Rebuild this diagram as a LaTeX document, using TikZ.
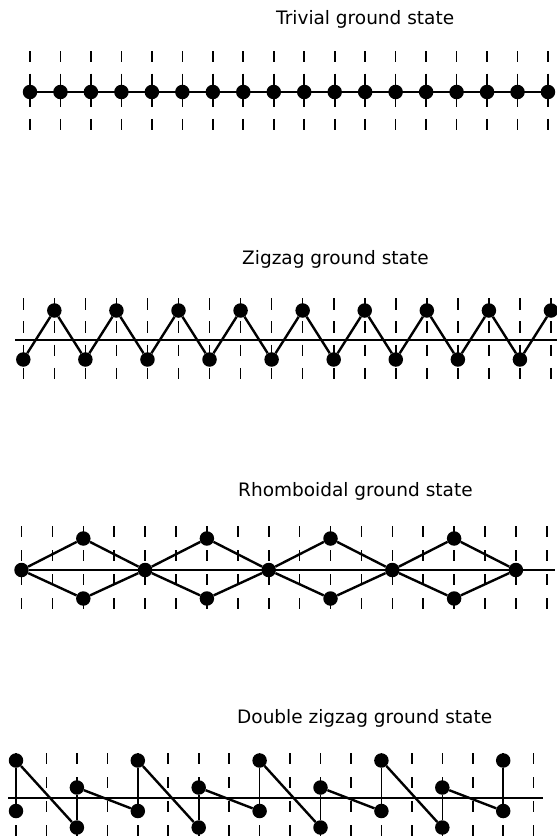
\documentclass[tikz,border=0pt]{standalone}
\usepackage{fontspec}
\newfontfamily\titlefont{DejaVu Sans}
\begin{document}
\begin{tikzpicture}[x=1pt,y=-1pt,
  ball/.style={circle,fill=black,inner sep=0pt,minimum size=14.5pt},
  bond/.style={line width=2.4pt},
  thinbond/.style={line width=1.6pt},
  axisline/.style={line width=1.4pt},
  tickA/.style={line width=1.6pt, dash pattern=on 11pt off 11.6pt},
  tickB/.style={line width=1.6pt, dash pattern=on 11.5pt off 11.8pt},
  tickC/.style={line width=1.6pt, dash pattern=on 11pt off 13pt},
  title/.style={anchor=base west,inner sep=0pt,font=\titlefont\fontsize{18.5}{22}\selectfont}]
\useasboundingbox (0,0) rectangle (557,839);
\fill[white] (0,0) rectangle (557,839);

% ---------- Titles ----------
\node[title] (t1) at (276,24) {Trivial ground state};
\node[title] (t2) at (242,264) {Zigzag ground state};
\node[title] (t3) at (238,496) {Rhomboidal ground state};
\node[title] (t4) at (237,723) {Double zigzag ground state};

% ---------- Trivial ----------
\foreach \k in {0,...,17} \draw[tickA] ({30+30.47*\k},51) -- ({30+30.47*\k},131);
\foreach \k in {0,...,17} \node[ball] (a\k) at ({30+30.47*\k},92) {};
\draw[bond] (a0) -- (a17);

% ---------- Zigzag ----------
\foreach \k in {0,...,17} \draw[tickB] ({23.3+31.04*\k},298) -- ({23.3+31.04*\k},381);
\coordinate (bL) at (15,340);
\coordinate (bR) at (557,340);
\draw[axisline] (bL) -- (bR);
\foreach \k in {0,2,...,16} \node[ball] (b\k) at ({23.3+31.04*\k},359.5) {};
\foreach \k in {1,3,...,17} \node[ball] (b\k) at ({23.3+31.04*\k},310.5) {};
\foreach \k [evaluate=\k as \n using int(\k+1)] in {0,...,16} \draw[bond] (b\k) -- (b\n);

% ---------- Rhomboidal ----------
\foreach \k in {0,...,17} \draw[tickC] ({21.5+30.9*\k},526) -- ({21.5+30.9*\k},610);
\foreach \k in {0,4,...,16} \node[ball] (c\k) at ({21.5+30.9*\k},570) {};
\foreach \k in {2,6,...,14} {
  \node[ball] (u\k) at ({21.5+30.9*\k},538.5) {};
  \node[ball] (d\k) at ({21.5+30.9*\k},598.5) {};
}
\coordinate (cR) at (555,570);
\draw[axisline] (c0) -- (cR);
\foreach \k [evaluate=\k as \a using int(\k+2), evaluate=\k as \b using int(\k+4)] in {0,4,8,12} {
  \draw[bond] (c\k) -- (u\a) -- (c\b);
  \draw[bond] (c\k) -- (d\a) -- (c\b);
}

% ---------- Double zigzag ----------
\foreach \k in {0,...,17} \draw[tickC] ({16+30.45*\k},753) -- ({16+30.45*\k},839);
\coordinate (dL) at (8,798);
\coordinate (dR) at (543,798);
\draw[axisline] (dL) -- (dR);
\foreach \k in {0,4,...,16} {
  \node[ball] (p\k) at ({16+30.45*\k},760.5) {};
  \node[ball] (q\k) at ({16+30.45*\k},811) {};
  \draw[thinbond] (p\k) -- (q\k);
}
\foreach \k in {2,6,...,14} {
  \node[ball] (r\k) at ({16+30.45*\k},787.5) {};
  \node[ball] (s\k) at ({16+30.45*\k},827.5) {};
  \draw[thinbond] (r\k) -- (s\k);
}
\foreach \k [evaluate=\k as \a using int(\k+2), evaluate=\k as \b using int(\k+4)] in {0,4,8,12} {
  \draw[bond] (p\k) -- (s\a);
  \draw[bond] (r\a) -- (q\b);
}
\end{tikzpicture}
\end{document}
